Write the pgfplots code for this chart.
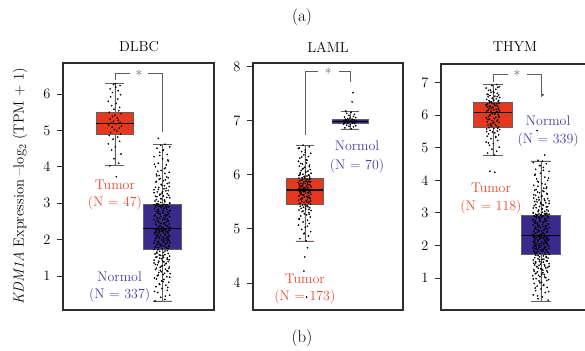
\documentclass[border=0pt]{standalone}
\usepackage{pgfplots}
\usepackage{pgfplotstable}
\pgfplotsset{compat=1.18}
\usepgfplotslibrary{statistics}

\definecolor{tumorbox}{RGB}{230,56,30}
\definecolor{normbox}{RGB}{58,42,140}
\definecolor{tumortxt}{RGB}{236,72,48}
\definecolor{normtxt}{RGB}{72,62,160}
\definecolor{brk}{RGB}{95,95,95}
\definecolor{frame}{RGB}{45,45,45}

% DLBC tumour samples (jitter offset, expression)
\pgfplotstableread{
dx y
0.03 3.73
-0.11 4.03
0.08 4.10
-0.02 4.22
0.13 4.35
-0.07 4.46
0.01 4.55
-0.14 4.63
0.10 4.70
-0.04 4.76
0.06 4.82
-0.12 4.86
0.12 4.90
-0.09 4.94
0.04 4.98
-0.01 5.02
0.09 5.06
-0.06 5.09
0.14 5.12
-0.13 5.15
0.02 5.18
-0.08 5.20
0.11 5.22
-0.03 5.25
0.07 5.28
-0.10 5.31
0.05 5.34
-0.05 5.38
0.00 5.42
0.13 5.46
-0.12 5.50
0.08 5.54
-0.02 5.58
0.10 5.63
-0.07 5.68
0.03 5.74
-0.14 5.80
0.06 5.86
-0.09 5.92
0.12 5.98
-0.05 6.04
0.07 6.09
-0.10 6.14
0.02 6.19
0.11 6.23
-0.03 6.26
0.01 6.28
}\dlbcT

% normal samples, shared by the DLBC and THYM panels
\pgfplotstableread{
dx y
-0.15 0.32
0.06 0.36
-0.03 0.42
0.16 0.48
-0.09 0.55
0.11 0.61
0.00 0.66
-0.13 0.71
0.08 0.75
-0.06 0.79
0.14 0.83
-0.01 0.87
0.04 0.91
-0.16 0.95
0.10 0.98
-0.10 1.01
0.02 1.04
0.17 1.07
-0.07 1.10
0.12 1.13
-0.04 1.16
0.07 1.19
-0.12 1.22
0.15 1.25
-0.02 1.27
0.05 1.30
-0.14 1.32
0.09 1.35
-0.08 1.37
0.13 1.40
0.01 1.42
-0.17 1.44
0.11 1.46
-0.05 1.49
0.03 1.51
-0.11 1.53
0.16 1.55
-0.03 1.57
0.06 1.59
-0.15 1.61
-0.11 1.63
0.03 1.65
-0.05 1.68
0.11 1.70
-0.17 1.73
0.01 1.75
0.13 1.76
-0.08 1.78
0.09 1.79
-0.14 1.80
0.05 1.82
-0.02 1.83
0.15 1.84
-0.12 1.86
0.07 1.87
-0.04 1.88
0.12 1.90
-0.07 1.91
0.17 1.92
0.02 1.94
-0.10 1.95
0.10 1.96
-0.16 1.98
0.04 1.99
-0.01 2.00
0.14 2.02
-0.06 2.03
0.08 2.04
-0.13 2.06
0.00 2.07
0.11 2.08
-0.09 2.10
0.16 2.11
-0.03 2.12
0.06 2.14
-0.15 2.15
0.13 2.16
-0.07 2.18
0.03 2.19
-0.12 2.20
0.11 2.21
0.00 2.22
-0.13 2.23
0.08 2.24
-0.06 2.25
0.14 2.26
-0.01 2.27
0.04 2.28
-0.16 2.29
0.10 2.30
-0.10 2.31
0.02 2.33
0.17 2.34
-0.07 2.36
0.12 2.37
-0.04 2.39
0.07 2.40
-0.12 2.42
0.15 2.43
-0.02 2.45
0.05 2.46
-0.14 2.48
0.09 2.49
-0.08 2.51
0.13 2.52
0.01 2.54
-0.17 2.55
0.11 2.57
-0.05 2.58
0.03 2.60
-0.11 2.61
0.16 2.63
-0.03 2.64
0.06 2.66
-0.15 2.67
0.08 2.69
-0.04 2.70
0.14 2.72
-0.09 2.73
0.02 2.75
0.12 2.76
-0.07 2.78
0.17 2.79
0.02 2.81
-0.10 2.82
0.10 2.84
-0.16 2.85
0.04 2.87
-0.01 2.88
0.14 2.90
-0.06 2.91
0.08 2.92
-0.13 2.94
0.00 2.95
0.11 2.96
-0.09 2.98
0.16 3.00
-0.03 3.02
0.06 3.04
-0.15 3.06
0.05 3.08
-0.12 3.10
-0.03 3.13
0.16 3.15
-0.11 3.18
0.03 3.20
-0.05 3.23
0.11 3.26
-0.17 3.29
0.01 3.32
0.13 3.35
-0.08 3.38
0.09 3.41
-0.14 3.44
0.05 3.48
-0.02 3.52
0.15 3.56
-0.12 3.60
0.07 3.64
-0.04 3.68
0.10 3.72
-0.06 3.76
-0.12 3.80
0.15 3.85
-0.02 3.90
0.05 3.95
-0.14 4.00
0.09 4.05
-0.08 4.10
0.13 4.16
0.01 4.22
-0.17 4.28
0.11 4.34
-0.05 4.40
0.03 4.46
-0.11 4.51
0.16 4.55
-0.03 4.59
0.06 4.62
-0.08 4.78
0.07 0.45
-0.16 0.58
0.12 0.69
-0.05 0.77
0.02 0.85
-0.12 0.92
0.16 0.97
-0.08 1.03
0.05 1.08
-0.02 1.12
0.10 1.15
-0.14 1.18
0.14 1.21
-0.04 1.24
0.00 1.28
-0.10 1.31
0.08 1.34
-0.17 1.36
0.04 1.39
-0.07 1.41
0.15 1.45
-0.01 1.48
0.11 1.50
-0.13 1.52
0.03 1.56
-0.06 1.58
0.13 1.62
-0.11 1.66
0.06 1.69
-0.09 1.72
0.10 1.77
-0.14 1.79
0.14 1.81
-0.04 1.83
0.00 1.85
-0.10 1.87
0.08 1.89
-0.17 1.91
0.04 1.93
-0.07 1.95
0.15 1.97
-0.01 1.99
0.11 2.01
-0.13 2.03
0.03 2.05
-0.06 2.07
0.13 2.09
-0.11 2.11
0.06 2.13
-0.09 2.15
0.07 2.17
-0.16 2.19
0.12 2.21
-0.05 2.22
0.02 2.24
-0.12 2.25
0.16 2.26
-0.08 2.27
0.05 2.28
-0.02 2.29
0.15 2.32
-0.01 2.35
0.11 2.38
-0.13 2.41
0.03 2.44
-0.06 2.47
0.13 2.50
-0.11 2.53
0.06 2.56
-0.09 2.59
0.07 2.62
-0.16 2.65
0.12 2.68
-0.05 2.71
0.02 2.74
-0.12 2.77
0.16 2.80
-0.08 2.83
0.05 2.86
-0.02 2.88
0.10 2.89
-0.14 2.90
0.14 2.91
-0.04 2.92
0.00 2.93
-0.10 2.94
0.08 2.95
-0.17 2.96
0.04 2.97
-0.07 2.97
-0.12 2.99
0.16 3.01
-0.08 3.05
0.05 3.09
-0.02 3.12
0.10 3.16
-0.14 3.19
0.14 3.22
-0.04 3.25
0.00 3.28
-0.10 3.31
0.08 3.34
-0.17 3.37
0.04 3.40
-0.07 3.43
0.15 3.46
-0.01 3.50
0.11 3.54
-0.13 3.58
0.03 3.62
-0.06 3.66
0.13 3.70
-0.11 3.75
0.06 3.82
-0.09 3.88
0.07 3.97
-0.16 4.07
0.12 4.19
-0.05 4.31
0.02 4.45
}\normals

% LAML tumour samples
\pgfplotstableread{
dx y
0.03 4.78
-0.11 4.82
0.08 4.87
-0.02 4.91
0.13 4.95
-0.07 4.99
0.01 5.03
-0.14 5.07
0.10 5.10
-0.04 5.13
0.06 5.16
-0.12 5.19
0.12 5.22
-0.09 5.24
0.04 5.26
-0.01 5.28
0.09 5.30
-0.06 5.32
0.14 5.34
-0.13 5.35
0.02 5.37
-0.08 5.38
0.11 5.39
-0.03 5.40
0.07 5.41
-0.10 5.42
0.05 5.43
-0.05 5.44
0.00 5.45
0.13 5.46
-0.12 5.47
0.08 5.48
-0.02 5.49
0.10 5.50
-0.07 5.51
0.03 5.52
-0.14 5.53
0.06 5.54
-0.09 5.55
0.12 5.56
-0.06 5.57
0.11 5.58
-0.01 5.59
0.05 5.60
-0.13 5.61
0.09 5.62
-0.04 5.63
0.14 5.64
-0.10 5.65
0.02 5.66
0.07 5.67
-0.08 5.68
0.12 5.68
-0.03 5.69
0.00 5.69
-0.12 5.70
0.10 5.70
-0.05 5.71
0.04 5.71
-0.14 5.72
-0.03 5.73
0.11 5.73
-0.08 5.74
0.02 5.75
-0.13 5.75
0.07 5.76
-0.01 5.77
0.14 5.78
-0.10 5.78
0.04 5.79
-0.06 5.80
0.12 5.81
-0.12 5.81
0.09 5.82
-0.04 5.83
0.01 5.84
-0.09 5.84
0.06 5.85
-0.14 5.86
0.13 5.87
-0.02 5.87
0.08 5.88
-0.11 5.89
0.03 5.89
-0.07 5.90
0.10 5.91
-0.05 5.92
0.05 5.92
0.00 5.93
-0.13 5.94
-0.06 5.95
0.11 5.96
-0.01 5.97
0.05 5.98
-0.13 5.99
0.09 6.00
-0.04 6.01
0.14 6.03
-0.10 6.04
0.02 6.05
0.07 6.07
-0.08 6.08
0.12 6.10
-0.03 6.12
0.00 6.14
-0.12 6.16
0.10 6.18
-0.05 6.20
0.04 6.22
-0.14 6.25
0.03 6.28
-0.11 6.31
0.08 6.34
-0.02 6.37
0.13 6.40
-0.07 6.43
0.01 6.46
-0.14 6.49
0.10 6.52
-0.04 6.55
0.06 4.65
0.00 4.48
-0.02 4.22
0.04 3.74
0.06 5.05
-0.13 5.18
0.10 5.27
-0.04 5.33
0.02 5.41
-0.10 5.47
0.13 5.52
-0.06 5.56
0.04 5.60
-0.02 5.63
0.08 5.66
-0.11 5.69
0.11 5.71
-0.03 5.74
0.00 5.76
-0.08 5.79
0.06 5.82
-0.14 5.85
0.03 5.88
-0.06 5.91
0.12 5.93
-0.01 5.96
0.09 5.99
-0.10 6.02
0.02 6.06
-0.05 6.11
0.10 6.15
-0.09 6.21
0.05 6.27
-0.07 6.33
0.01 6.42
-0.12 6.50
0.07 5.58
-0.03 5.77
0.11 5.87
-0.08 5.64
0.04 5.50
-0.11 6.00
0.09 5.36
-0.01 4.92
}\lamlT

% LAML normal samples
\pgfplotstableread{
dx y
0.03 6.85
-0.11 6.87
0.08 6.89
-0.02 6.90
0.13 6.91
-0.07 6.92
0.01 6.93
-0.14 6.94
0.10 6.95
-0.04 6.95
0.06 6.96
-0.12 6.96
0.12 6.97
-0.09 6.97
0.04 6.98
-0.01 6.98
0.09 6.98
-0.06 6.99
0.14 6.99
-0.13 7.00
0.02 7.00
-0.08 7.01
0.11 7.01
-0.03 7.02
0.07 7.02
-0.10 7.03
0.05 7.03
-0.05 7.04
0.00 7.05
0.13 7.06
-0.12 7.07
0.08 7.08
-0.02 7.10
0.10 7.12
-0.07 7.14
0.03 7.16
-0.09 7.18
0.05 7.35
0.07 7.52
}\lamlN

% THYM tumour samples
\pgfplotstableread{
dx y
0.03 4.78
-0.11 4.84
0.08 4.90
-0.02 4.96
0.13 5.02
-0.07 5.08
0.01 5.13
-0.14 5.18
0.10 5.23
-0.04 5.28
0.06 5.32
-0.12 5.36
0.12 5.40
-0.09 5.43
0.04 5.46
-0.01 5.49
0.09 5.52
-0.06 5.54
0.14 5.56
-0.13 5.58
0.02 5.60
-0.08 5.62
0.11 5.64
-0.03 5.66
0.07 5.68
-0.10 5.70
0.05 5.72
-0.05 5.74
0.00 5.76
0.13 5.78
-0.12 5.80
0.08 5.82
-0.02 5.84
0.10 5.86
-0.07 5.88
0.03 5.90
-0.14 5.92
0.06 5.94
-0.09 5.96
0.12 5.98
-0.06 6.01
0.11 6.03
-0.01 6.05
0.05 6.08
-0.13 6.10
0.09 6.11
-0.04 6.13
0.14 6.14
-0.10 6.16
0.02 6.17
0.07 6.19
-0.08 6.20
0.12 6.22
-0.03 6.23
0.00 6.25
-0.12 6.26
0.10 6.28
-0.05 6.29
0.04 6.31
-0.14 6.32
0.03 6.34
-0.11 6.35
0.08 6.36
-0.02 6.37
0.13 6.38
-0.07 6.39
-0.03 6.41
0.11 6.43
-0.08 6.45
0.02 6.47
-0.13 6.49
0.07 6.51
-0.01 6.53
0.14 6.55
-0.10 6.57
0.04 6.59
-0.06 6.61
0.12 6.63
-0.12 6.65
0.09 6.68
-0.04 6.71
0.01 6.74
-0.09 6.77
0.06 6.80
-0.14 6.84
0.13 6.88
-0.02 6.92
0.08 6.95
-0.06 4.28
0.04 4.25
0.06 5.35
-0.13 5.50
0.10 5.60
-0.04 5.70
0.02 5.79
-0.10 5.87
0.13 5.95
-0.06 6.00
0.04 6.04
-0.02 6.07
0.08 6.12
-0.11 6.15
0.11 6.18
-0.03 6.21
0.00 6.24
-0.08 6.27
0.06 6.30
-0.14 6.33
0.03 6.37
-0.06 6.42
0.12 6.46
-0.01 6.52
0.09 6.58
-0.10 6.64
0.02 6.70
-0.05 6.78
0.10 6.86
-0.09 5.15
}\thymT

% THYM normal samples beyond the shared set
\pgfplotstableread{
dx y
-0.08 5.53
0.04 6.63
}\thymNextra

\pgfplotsset{
  panel/.style={
    scale only axis,
    xtick=\empty, ytick pos=left, tick align=outside,
    major tick length=6bp,
    axis line style={line width=1.5bp, frame},
    ytick style={line width=0.9bp, frame},
    yticklabel style={font=\fontsize{15}{17}\selectfont, xshift=-3bp},
    clip=false,
    boxplot/draw direction=y,
  },
  dots/.style={only marks, mark=*, mark size=0.62pt, draw=black, fill=black},
  tbox/.style={fill=tumorbox, draw=gray!75!black, line width=0.6bp,
    boxplot/every median/.style={draw=black, line width=1.1bp}},
  nbox/.style={fill=normbox, draw=gray!75!black, line width=0.6bp,
    boxplot/every median/.style={draw=black, line width=1.1bp}},
  brk/.style={draw=brk, line width=0.8bp},
}

\newcommand{\lbl}{\fontsize{14}{16}\selectfont}

\begin{document}
\begin{tikzpicture}
\path[use as bounding box] (0,0) rectangle (585bp,351bp);

% ---------------- DLBC ----------------
\begin{axis}[panel, at={(63bp,41bp)}, anchor=south west,
  width=151bp, height=247bp,
  xmin=-0.1, xmax=3.1, ymin=0.07, ymax=6.85, ytick={1,...,6}]
\addplot[tbox, boxplot prepared={median=5.19, lower quartile=4.89,
  upper quartile=5.50, lower whisker=4.03, upper whisker=6.28,
  draw position=1, box extend=0.8, whisker extend=0.4, draw direction=y}] coordinates {};
\addplot[nbox, boxplot prepared={median=2.30, lower quartile=1.74,
  upper quartile=2.97, lower whisker=0.32, upper whisker=4.62,
  draw position=2, box extend=0.8, whisker extend=0.4, draw direction=y}] coordinates {};
\addplot[dots] table[x expr=1+\thisrow{dx}, y=y] {\dlbcT};
\addplot[dots] table[x expr=2+\thisrow{dx}, y=y] {\normals};
\draw[brk] (axis cs:1,6.38) -- (axis cs:1,6.58) -- (axis cs:1.32,6.58);
\draw[brk] (axis cs:1.70,6.58) -- (axis cs:2,6.58) -- (axis cs:2,4.96);
\node[text=brk, font=\lbl, yshift=-2bp] at (axis cs:1.51,6.58) {*};
\node[text=tumortxt, font=\lbl] at (axis cs:1,3.50) {Tumor};
\node[text=tumortxt, font=\lbl] at (axis cs:1,3.00) {(N = 47)};
\node[text=normtxt, font=\lbl] at (axis cs:1.1,0.97) {Normol};
\node[text=normtxt, font=\lbl] at (axis cs:1.1,0.48) {(N = 337)};
\end{axis}

% ---------------- LAML ----------------
\begin{axis}[panel, at={(253bp,41bp)}, anchor=south west,
  width=150bp, height=247bp,
  xmin=-0.15, xmax=3.18, ymin=3.5, ymax=8.07, ytick={4,...,8}]
\addplot[tbox, boxplot prepared={median=5.72, lower quartile=5.46,
  upper quartile=5.94, lower whisker=4.78, upper whisker=6.55,
  draw position=1, box extend=0.8, whisker extend=0.4, draw direction=y}] coordinates {};
\addplot[nbox, boxplot prepared={median=6.98, lower quartile=6.95,
  upper quartile=7.03, lower whisker=6.85, upper whisker=7.18,
  draw position=2, box extend=0.8, whisker extend=0.4, draw direction=y}] coordinates {};
\node[text=tumortxt, font=\lbl] at (axis cs:1,4.07) {Tumor};
\node[text=tumortxt, font=\lbl] at (axis cs:1,3.74) {(N = 173)};
\addplot[dots] table[x expr=1+\thisrow{dx}, y=y] {\lamlT};
\addplot[dots] table[x expr=2+\thisrow{dx}, y=y] {\lamlN};
\draw[brk] (axis cs:1,6.74) -- (axis cs:1,7.91) -- (axis cs:1.29,7.91);
\draw[brk] (axis cs:1.76,7.91) -- (axis cs:2,7.91) -- (axis cs:2,7.72);
\node[text=brk, font=\lbl, yshift=-2bp] at (axis cs:1.52,7.91) {*};
\node[text=normtxt, font=\lbl] at (axis cs:2.16,6.54) {Normol};
\node[text=normtxt, font=\lbl] at (axis cs:2.16,6.17) {(N = 70)};
\end{axis}

% ---------------- THYM ----------------
\begin{axis}[panel, at={(441bp,41bp)}, anchor=south west,
  width=148bp, height=246bp,
  xmin=-0.08, xmax=3.0, ymin=0.015, ymax=7.58, ytick={1,...,7}]
\addplot[tbox, boxplot prepared={median=6.09, lower quartile=5.63,
  upper quartile=6.40, lower whisker=4.78, upper whisker=6.95,
  draw position=1, box extend=0.8, whisker extend=0.4, draw direction=y}] coordinates {};
\addplot[nbox, boxplot prepared={median=2.30, lower quartile=1.74,
  upper quartile=2.93, lower whisker=0.28, upper whisker=4.60,
  draw position=2, box extend=0.8, whisker extend=0.4, draw direction=y}] coordinates {};
\node[text=normtxt, font=\lbl] at (axis cs:2.15,5.83) {Normol};
\node[text=normtxt, font=\lbl] at (axis cs:2.15,5.25) {(N = 339)};
\addplot[dots] table[x expr=1+\thisrow{dx}, y=y] {\thymT};
\addplot[dots] table[x expr=2-\thisrow{dx}, y=y] {\normals};
\addplot[dots] table[x expr=2+\thisrow{dx}, y=y] {\thymNextra};
\draw[brk] (axis cs:1,7.02) -- (axis cs:1,7.28) -- (axis cs:1.32,7.28);
\draw[brk] (axis cs:1.71,7.28) -- (axis cs:2,7.28) -- (axis cs:2,6.57);
\node[text=brk, font=\lbl, yshift=-2bp] at (axis cs:1.50,7.28) {*};
\node[text=tumortxt, font=\lbl] at (axis cs:0.96,3.77) {Tumor};
\node[text=tumortxt, font=\lbl] at (axis cs:0.96,3.18) {(N = 118)};
\end{axis}

% panel titles, shared y label, sub-figure captions
\node[font=\fontsize{14.5}{17}\selectfont] at (139bp,304bp) {DLBC};
\node[font=\fontsize{14.5}{17}\selectfont] at (328bp,304bp) {LAML};
\node[font=\fontsize{14.5}{17}\selectfont] at (515bp,304bp) {THYM};
\node[rotate=90, font=\fontsize{14.6}{17}\selectfont] at (20bp,165bp)
  {\textit{KDM1A} Expression --log$_2$ (TPM + 1)};
\node[font=\fontsize{17}{20}\selectfont] at (302bp,334bp) {(a)};
\node[font=\fontsize{17}{20}\selectfont] at (302bp,13bp) {(b)};
\end{tikzpicture}
\end{document}
